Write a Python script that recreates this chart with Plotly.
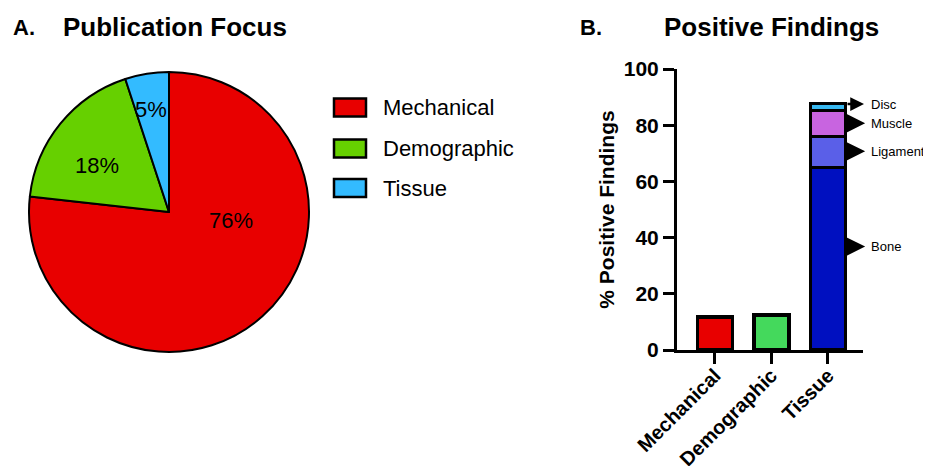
import plotly.graph_objects as go

OFF = 8  # page body margin in the browser
W, H = 931 - 2 * OFF, 474 - 2 * OFF

# ---- data ----
pie_labels = ["Mechanical", "Demographic", "Tissue"]
pie_values = [76, 18, 5]
pie_text = ["76%", "18%", "5%"]
pie_colors = ["#e80000", "#66d000", "#33bbff"]

bar_categories = ["Mechanical", "Demographic", "Tissue"]
mech_value = [11.8, None, None]
demo_value = [None, 12.4, None]
tissue_parts = ["Bone", "Ligament", "Muscle", "Disc"]
tissue_values = [65.0, 11.0, 9.2, 2.6]
tissue_colors = ["#0010c0", "#5a5fe8", "#c864e0", "#38b8f0"]
tissue_marker_y = [36.8, 70.7, 80.7, 87.5]
y_ticks = [0, 20, 40, 60, 80, 100]

FONT = "Arial, Liberation Sans, Helvetica, sans-serif"


def px(x):
    return (x - OFF) / W


def py(y):
    return 1 - (y - OFF) / H


fig = go.Figure()

# pie
fig.add_trace(go.Pie(
    labels=pie_labels, values=pie_values, text=pie_text,
    textinfo="none", sort=False, direction="clockwise", rotation=0,
    marker=dict(colors=pie_colors, line=dict(color="black", width=2)),
    domain=dict(x=[px(29), px(309)], y=[py(352), py(72)]),
    showlegend=False, hoverinfo="label+percent",
))

# bars
BAR_LINE = dict(color="black", width=3.5)
fig.add_trace(go.Bar(x=bar_categories, y=mech_value, marker=dict(color="#e80000", line=BAR_LINE),
                     width=0.62, showlegend=False, xaxis="x", yaxis="y"))
fig.add_trace(go.Bar(x=bar_categories, y=demo_value, marker=dict(color="#44d95c", line=BAR_LINE),
                     width=0.62, showlegend=False, xaxis="x", yaxis="y"))
for name, v, c in zip(tissue_parts, tissue_values, tissue_colors):
    fig.add_trace(go.Bar(x=[bar_categories[2]], y=[v], name=name,
                         marker=dict(color=c, line=BAR_LINE),
                         width=0.62, showlegend=False, xaxis="x", yaxis="y"))

# pointer triangles for Bone, Ligament, Muscle (Disc uses an arrow)
TRI_X0, TRI_X1, TRI_HALF = 2.29, 2.66, 3.7
tx, ty = [], []
for yv in tissue_marker_y[:3]:
    tx += [TRI_X0, TRI_X1, TRI_X0, TRI_X0, None]
    ty += [yv - TRI_HALF, yv, yv + TRI_HALF, yv - TRI_HALF, None]
fig.add_trace(go.Scatter(x=tx, y=ty, mode="lines", fill="toself", fillcolor="black",
                         line=dict(color="black", width=0), xaxis="x2", yaxis="y",
                         showlegend=False, hoverinfo="skip"))

annotations = []
shapes = []

annotations.append(dict(x=2.64, y=tissue_marker_y[3], xref="x2", yref="y", ax=-18, ay=0,
                        showarrow=True, arrowhead=2, arrowsize=1.1, arrowwidth=2.5,
                        arrowcolor="black", text=""))
for name, yv in zip(tissue_parts, tissue_marker_y):
    annotations.append(dict(x=px(869), y=yv, xref="paper", yref="y", text=name, showarrow=False,
                            xanchor="left", yanchor="middle", font=dict(size=13, color="black", family=FONT)))

# pie percentage labels
for t, (lx, ly) in zip(pie_text, [(231, 220), (97, 165), (151, 109)]):
    annotations.append(dict(x=px(lx), y=py(ly), xref="paper", yref="paper", text=t, showarrow=False,
                            xanchor="center", yanchor="middle", font=dict(size=22, family=FONT, color="black")))

# titles
annotations += [
    dict(x=px(11), y=py(27), xref="paper", yref="paper", text="<b>A.</b>", showarrow=False,
         xanchor="left", yanchor="middle", font=dict(size=22, family=FONT, color="black")),
    dict(x=px(61), y=py(27), xref="paper", yref="paper", text="<b>Publication Focus</b>", showarrow=False,
         xanchor="left", yanchor="middle", font=dict(size=26, family=FONT, color="black")),
    dict(x=px(578), y=py(27), xref="paper", yref="paper", text="<b>B.</b>", showarrow=False,
         xanchor="left", yanchor="middle", font=dict(size=22, family=FONT, color="black")),
    dict(x=px(662), y=py(27), xref="paper", yref="paper", text="<b>Positive Findings</b>", showarrow=False,
         xanchor="left", yanchor="middle", font=dict(size=26, family=FONT, color="black")),
]

# pie legend
leg_y = [107.5, 148.5, 188]
for lab, col, yy in zip(pie_labels, pie_colors, leg_y):
    shapes.append(dict(type="rect", xref="paper", yref="paper",
                       x0=px(334), x1=px(366), y0=py(yy + 9), y1=py(yy - 9),
                       fillcolor=col, line=dict(color="black", width=2.5)))
    annotations.append(dict(x=px(381), y=py(yy), xref="paper", yref="paper", text=lab, showarrow=False,
                            xanchor="left", yanchor="middle", font=dict(size=22, family=FONT, color="black")))

X0 = 677  # y-axis position (px)
fig.update_layout(
    width=W, height=H, margin=dict(l=0, r=0, t=0, b=0, autoexpand=False),
    paper_bgcolor="white", plot_bgcolor="rgba(0,0,0,0)",
    barmode="stack",
    xaxis=dict(domain=[px(X0), px(863)], range=[-0.67, 2.62], type="category",
               showline=True, linecolor="black", linewidth=3, ticks="outside", ticklen=11,
               tickwidth=2.5, tickcolor="black", tickangle=-45, showgrid=False, zeroline=False,
               ticklabelstandoff=-8,
               tickfont=dict(family=FONT, size=20, color="black", weight="bold")),
    xaxis2=dict(domain=[px(X0), px(920)], range=[-0.67, -0.67 + (920 - X0) / 56.5], visible=False,
                anchor="y"),
    yaxis=dict(domain=[py(350), py(69)], range=[0, 100], tickvals=y_ticks,
               showline=True, linecolor="black", linewidth=3, ticks="outside", ticklen=11,
               tickwidth=2.5, tickcolor="black", showgrid=False, zeroline=False,
               tickfont=dict(family=FONT, size=21, color="black", weight="bold"),
               title=dict(text="% Positive Findings", standoff=4,
                          font=dict(family=FONT, size=21, color="black", weight="bold"))),
    annotations=annotations, shapes=shapes,
)

fig.write_html("out.html")
